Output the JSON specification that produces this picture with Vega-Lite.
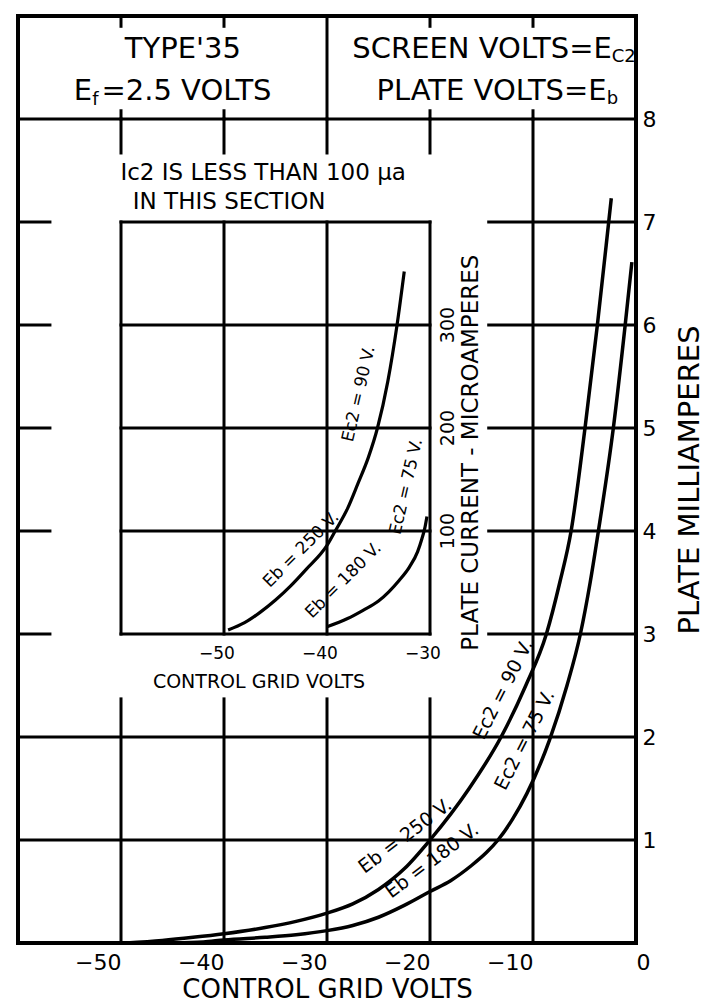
{
  "$schema": "https://vega.github.io/schema/vega-lite/v6.json",
  "width": 618,
  "height": 927,
  "autosize": {"type": "none"},
  "padding": {"left": 18, "top": 16, "right": 73, "bottom": 62},
  "background": "white",
  "config": {
    "font": "DejaVu Sans",
    "view": {"stroke": "black", "strokeWidth": 4},
    "axis": {"labelColor": "black", "titleColor": "black", "titleFontWeight": "normal", "labelFont": "DejaVu Sans", "titleFont": "DejaVu Sans"}
  },
  "layer": [
    {
      "encoding": {
        "x": {"field": "v", "type": "quantitative", "scale": {"domain": [-60, 0], "nice": false, "zero": false},
          "axis": {"values": [-50, -40, -30, -20, -10, 0], "title": "CONTROL GRID VOLTS", "grid": false, "domain": false, "ticks": false, "labelFlush": false, "labelFontSize": 22, "labelPadding": 9, "titleFontSize": 26, "titlePadding": 3,
            "labelAlign": {"condition": {"test": "datum.value === 0", "value": "left"}, "value": "right"}}},
        "y": {"field": "ma", "type": "quantitative", "scale": {"domain": [0, 9], "nice": false, "zero": false},
          "axis": {"orient": "right", "values": [1, 2, 3, 4, 5, 6, 7, 8], "title": "PLATE MILLIAMPERES", "titleAngle": 270, "titleBaseline": "top", "grid": false, "domain": false, "ticks": false, "labelFontSize": 22, "labelPadding": 6, "titleFontSize": 29, "titlePadding": 20}}
      },
      "layer": [
        {
          "data": {"values": [
            {"v": -50, "v2": -50, "ma": 0, "ma2": 2.37}, {"v": -50, "v2": -50, "ma": 7.67, "ma2": 8},
            {"v": -40, "v2": -40, "ma": 0, "ma2": 2.37}, {"v": -40, "v2": -40, "ma": 7.67, "ma2": 8},
            {"v": -30, "v2": -30, "ma": 0, "ma2": 2.37}, {"v": -30, "v2": -30, "ma": 7.67, "ma2": 8},
            {"v": -20, "v2": -20, "ma": 0, "ma2": 2.37}, {"v": -20, "v2": -20, "ma": 7.67, "ma2": 8},
            {"v": -10, "v2": -10, "ma": 0, "ma2": 8},
            {"v": -60, "v2": 0, "ma": 1, "ma2": 1}, {"v": -60, "v2": 0, "ma": 2, "ma2": 2}, {"v": -60, "v2": 0, "ma": 8, "ma2": 8},
            {"v": -60, "v2": -56.9, "ma": 3, "ma2": 3}, {"v": -14.3, "v2": 0, "ma": 3, "ma2": 3},
            {"v": -60, "v2": -56.9, "ma": 4, "ma2": 4}, {"v": -14.3, "v2": 0, "ma": 4, "ma2": 4},
            {"v": -60, "v2": -56.9, "ma": 5, "ma2": 5}, {"v": -14.3, "v2": 0, "ma": 5, "ma2": 5},
            {"v": -60, "v2": -56.9, "ma": 6, "ma2": 6}, {"v": -14.3, "v2": 0, "ma": 6, "ma2": 6},
            {"v": -60, "v2": -56.9, "ma": 7, "ma2": 7}, {"v": -14.3, "v2": 0, "ma": 7, "ma2": 7},
            {"v": -30, "v2": -30, "ma": 8, "ma2": 9},
            {"v": -50, "v2": -50, "ma": 8.9, "ma2": 9}, {"v": -40, "v2": -40, "ma": 8.9, "ma2": 9},
            {"v": -20, "v2": -20, "ma": 8.9, "ma2": 9}, {"v": -10, "v2": -10, "ma": 8.9, "ma2": 9},
            {"v": -50, "v2": -50, "ma": 8, "ma2": 8.08}, {"v": -40, "v2": -40, "ma": 8, "ma2": 8.08},
            {"v": -20, "v2": -20, "ma": 8, "ma2": 8.08}, {"v": -10, "v2": -10, "ma": 8, "ma2": 8.08}
          ]},
          "mark": {"type": "rule", "color": "black", "strokeWidth": 3, "strokeCap": "square"},
          "encoding": {"x2": {"field": "v2"}, "y2": {"field": "ma2"}}
        },
        {
          "data": {"values": [
            {"curve": "Eb250", "v": -49.5, "ma": 0}, {"curve": "Eb250", "v": -46, "ma": 0.025}, {"curve": "Eb250", "v": -43, "ma": 0.055},
            {"curve": "Eb250", "v": -40, "ma": 0.09}, {"curve": "Eb250", "v": -36, "ma": 0.15}, {"curve": "Eb250", "v": -33, "ma": 0.21},
            {"curve": "Eb250", "v": -30, "ma": 0.29}, {"curve": "Eb250", "v": -27.5, "ma": 0.38}, {"curve": "Eb250", "v": -25, "ma": 0.52},
            {"curve": "Eb250", "v": -22.5, "ma": 0.72}, {"curve": "Eb250", "v": -20, "ma": 1.0}, {"curve": "Eb250", "v": -16.2, "ma": 1.5},
            {"curve": "Eb250", "v": -13.1, "ma": 2.0}, {"curve": "Eb250", "v": -10.7, "ma": 2.5}, {"curve": "Eb250", "v": -8.7, "ma": 3.0},
            {"curve": "Eb250", "v": -7.4, "ma": 3.5}, {"curve": "Eb250", "v": -6.3, "ma": 4.0}, {"curve": "Eb250", "v": -4.95, "ma": 5.0},
            {"curve": "Eb250", "v": -3.75, "ma": 6.0}, {"curve": "Eb250", "v": -2.65, "ma": 7.0}, {"curve": "Eb250", "v": -2.4, "ma": 7.23},
            {"curve": "Eb180", "v": -45, "ma": 0}, {"curve": "Eb180", "v": -42, "ma": 0.01}, {"curve": "Eb180", "v": -40, "ma": 0.03},
            {"curve": "Eb180", "v": -36, "ma": 0.055}, {"curve": "Eb180", "v": -33, "ma": 0.08}, {"curve": "Eb180", "v": -30, "ma": 0.12},
            {"curve": "Eb180", "v": -27.5, "ma": 0.17}, {"curve": "Eb180", "v": -25, "ma": 0.25}, {"curve": "Eb180", "v": -22.5, "ma": 0.365},
            {"curve": "Eb180", "v": -20, "ma": 0.5}, {"curve": "Eb180", "v": -18, "ma": 0.605}, {"curve": "Eb180", "v": -16, "ma": 0.75},
            {"curve": "Eb180", "v": -14.5, "ma": 0.88}, {"curve": "Eb180", "v": -13.4, "ma": 1.0}, {"curve": "Eb180", "v": -12, "ma": 1.2},
            {"curve": "Eb180", "v": -10.6, "ma": 1.45}, {"curve": "Eb180", "v": -8.4, "ma": 1.97}, {"curve": "Eb180", "v": -6.7, "ma": 2.5},
            {"curve": "Eb180", "v": -5.4, "ma": 3.0}, {"curve": "Eb180", "v": -4.45, "ma": 3.5}, {"curve": "Eb180", "v": -3.65, "ma": 4.0},
            {"curve": "Eb180", "v": -2.2, "ma": 5.0}, {"curve": "Eb180", "v": -1.05, "ma": 6.0}, {"curve": "Eb180", "v": -0.4, "ma": 6.61}
          ]},
          "mark": {"type": "line", "color": "black", "strokeWidth": 3.5, "interpolate": "monotone"},
          "encoding": {"detail": {"field": "curve"}}
        },
        {
          "data": {"values": [{"t": "TYPE'35", "v": -44, "ma": 8.68}]},
          "mark": {"type": "text", "color": "black", "fontSize": 29, "align": "center", "baseline": "middle"},
          "encoding": {"text": {"field": "t"}}
        },
        {
          "data": {"values": [{"t": "=2.5 VOLTS", "v": -51.9, "ma": 8.27}]},
          "mark": {"type": "text", "color": "black", "fontSize": 29, "align": "left", "baseline": "middle"},
          "encoding": {"text": {"field": "t"}}
        },
        {
          "data": {"values": [
            {"t": "E", "v": -52.8, "ma": 8.27},
            {"t": "SCREEN VOLTS=E", "v": -2.35, "ma": 8.68},
            {"t": "PLATE VOLTS=E", "v": -2.85, "ma": 8.27}
          ]},
          "mark": {"type": "text", "color": "black", "fontSize": 29, "align": "right", "baseline": "middle"},
          "encoding": {"text": {"field": "t"}}
        },
        {
          "data": {"values": [
            {"t": "f", "v": -52.8, "ma": 8.18},
            {"t": "C2", "v": -2.35, "ma": 8.6},
            {"t": "b", "v": -2.85, "ma": 8.19}
          ]},
          "mark": {"type": "text", "color": "black", "fontSize": 18, "align": "left", "baseline": "middle"},
          "encoding": {"text": {"field": "t"}}
        },
        {
          "data": {"values": [
            {"t": "Eb = 250 V.", "v": -22.4, "ma": 1.04},
            {"t": "Eb = 180 V.", "v": -19.8, "ma": 0.8}
          ]},
          "mark": {"type": "text", "color": "black", "fontSize": 19, "align": "center", "baseline": "middle", "angle": -37},
          "encoding": {"text": {"field": "t"}}
        },
        {
          "data": {"values": [
            {"t": "Ec2 = 90 V.", "v": -12.9, "ma": 2.46},
            {"t": "Ec2 = 75 V.", "v": -10.8, "ma": 1.97}
          ]},
          "mark": {"type": "text", "color": "black", "fontSize": 19, "align": "center", "baseline": "middle", "angle": -63},
          "encoding": {"text": {"field": "t"}}
        }
      ]
    },
    {
      "encoding": {
        "x": {"field": "v", "type": "quantitative", "scale": {"domain": [-70, -10], "nice": false, "zero": false}, "axis": null},
        "y": {"field": "ua", "type": "quantitative", "scale": {"domain": [-300, 600], "nice": false, "zero": false}, "axis": null}
      },
      "layer": [
        {
          "data": {"values": [
            {"v": -60, "v2": -60, "ua": 0, "ua2": 400}, {"v": -30, "v2": -30, "ua": 0, "ua2": 400},
            {"v": -60, "v2": -30, "ua": 0, "ua2": 0}, {"v": -60, "v2": -30, "ua": 400, "ua2": 400},
            {"v": -50, "v2": -50, "ua": 0, "ua2": 400}, {"v": -40, "v2": -40, "ua": 0, "ua2": 400},
            {"v": -60, "v2": -30, "ua": 100, "ua2": 100}, {"v": -60, "v2": -30, "ua": 200, "ua2": 200},
            {"v": -60, "v2": -30, "ua": 300, "ua2": 300}
          ]},
          "mark": {"type": "rule", "color": "black", "strokeWidth": 3, "strokeCap": "square"},
          "encoding": {"x2": {"field": "v2"}, "y2": {"field": "ua2"}}
        },
        {
          "data": {"values": [
            {"curve": "Eb250", "v": -49.6, "ua": 4}, {"curve": "Eb250", "v": -48, "ua": 11}, {"curve": "Eb250", "v": -46.5, "ua": 21},
            {"curve": "Eb250", "v": -45, "ua": 33}, {"curve": "Eb250", "v": -43.5, "ua": 47}, {"curve": "Eb250", "v": -42, "ua": 63},
            {"curve": "Eb250", "v": -40, "ua": 86}, {"curve": "Eb250", "v": -39.2, "ua": 100}, {"curve": "Eb250", "v": -38, "ua": 122},
            {"curve": "Eb250", "v": -37, "ua": 146}, {"curve": "Eb250", "v": -36, "ua": 171}, {"curve": "Eb250", "v": -35.1, "ua": 200},
            {"curve": "Eb250", "v": -34.1, "ua": 245}, {"curve": "Eb250", "v": -33.2, "ua": 300}, {"curve": "Eb250", "v": -32.5, "ua": 352},
            {"curve": "Eb180", "v": -40, "ua": 7}, {"curve": "Eb180", "v": -38, "ua": 15}, {"curve": "Eb180", "v": -36.5, "ua": 23},
            {"curve": "Eb180", "v": -35, "ua": 32}, {"curve": "Eb180", "v": -34, "ua": 41}, {"curve": "Eb180", "v": -33, "ua": 52},
            {"curve": "Eb180", "v": -32, "ua": 65}, {"curve": "Eb180", "v": -31.2, "ua": 80}, {"curve": "Eb180", "v": -30.8, "ua": 92},
            {"curve": "Eb180", "v": -30.5, "ua": 103}, {"curve": "Eb180", "v": -30.3, "ua": 114}
          ]},
          "mark": {"type": "line", "color": "black", "strokeWidth": 3.2, "interpolate": "monotone"},
          "encoding": {"detail": {"field": "curve"}}
        },
        {
          "data": {"values": [
            {"t": "Ic2 IS LESS THAN 100 µa", "v": -46.2, "ua": 448},
            {"t": "IN THIS SECTION", "v": -49.5, "ua": 419}
          ]},
          "mark": {"type": "text", "color": "black", "fontSize": 23, "align": "center", "baseline": "middle"},
          "encoding": {"text": {"field": "t"}}
        },
        {
          "data": {"values": [
            {"t": "−50", "v": -50, "ua": -19},
            {"t": "−40", "v": -40, "ua": -19},
            {"t": "−30", "v": -30, "ua": -19}
          ]},
          "mark": {"type": "text", "color": "black", "fontSize": 17, "align": "center", "baseline": "middle", "dx": -7},
          "encoding": {"text": {"field": "t"}}
        },
        {
          "data": {"values": [{"t": "CONTROL GRID VOLTS", "v": -46.6, "ua": -47}]},
          "mark": {"type": "text", "color": "black", "fontSize": 19, "align": "center", "baseline": "middle"},
          "encoding": {"text": {"field": "t"}}
        },
        {
          "data": {"values": [
            {"t": "100", "v": -28.25, "ua": 100},
            {"t": "200", "v": -28.25, "ua": 200},
            {"t": "300", "v": -28.25, "ua": 300}
          ]},
          "mark": {"type": "text", "color": "black", "fontSize": 19, "align": "center", "baseline": "middle", "angle": -90},
          "encoding": {"text": {"field": "t"}}
        },
        {
          "data": {"values": [{"t": "PLATE CURRENT - MICROAMPERES", "v": -26.0, "ua": 176}]},
          "mark": {"type": "text", "color": "black", "fontSize": 23, "align": "center", "baseline": "middle", "angle": -90},
          "encoding": {"text": {"field": "t"}}
        },
        {
          "data": {"values": [
            {"t": "Eb = 250 V.", "v": -42.5, "ua": 82},
            {"t": "Eb = 180 V.", "v": -38.4, "ua": 52}
          ]},
          "mark": {"type": "text", "color": "black", "fontSize": 17, "align": "center", "baseline": "middle", "angle": -45},
          "encoding": {"text": {"field": "t"}}
        },
        {
          "data": {"values": [
            {"t": "Ec2 = 90 V.", "v": -36.9, "ua": 233},
            {"t": "Ec2 = 75 V.", "v": -32.3, "ua": 143}
          ]},
          "mark": {"type": "text", "color": "black", "fontSize": 17, "align": "center", "baseline": "middle", "angle": -77},
          "encoding": {"text": {"field": "t"}}
        }
      ]
    }
  ],
  "resolve": {"scale": {"x": "independent", "y": "independent"}}
}
